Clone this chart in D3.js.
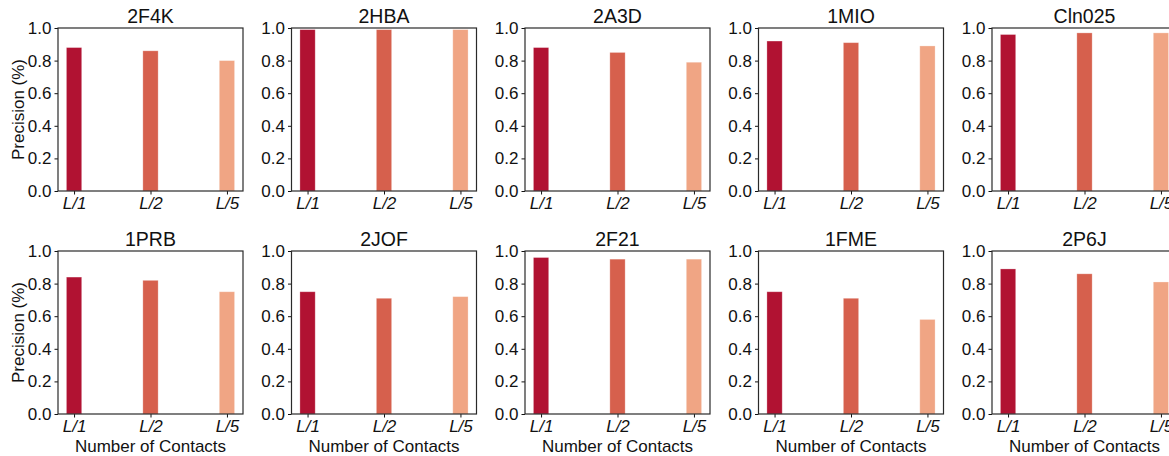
<!DOCTYPE html>
<html>
<head>
<meta charset="utf-8">
<script src="https://cdn.jsdelivr.net/npm/d3@7"></script>
<style>
  html, body { margin: 0; padding: 0; background: #fff; }
  svg { display: block; font-family: "Liberation Sans", Arial, sans-serif; }
</style>
</head>
<body>
<svg id="chart"></svg>
<script>
const proteins = ['2F4K', '2HBA', '2A3D', '1MIO', 'Cln025', '1PRB', '2JOF', '2F21', '1FME', '2P6J'];
const contacts = ['L/1', 'L/2', 'L/5'];
const precisionL1 = [0.88, 0.99, 0.88, 0.92, 0.96, 0.84, 0.75, 0.96, 0.75, 0.89];
const precisionL2 = [0.86, 0.99, 0.85, 0.91, 0.97, 0.82, 0.71, 0.95, 0.71, 0.86];
const precisionL5 = [0.80, 0.99, 0.79, 0.89, 0.97, 0.75, 0.72, 0.95, 0.58, 0.81];
const yTicks = [0, 0.2, 0.4, 0.6, 0.8, 1.0];
const barColors = ['#b11232', '#d6604d', '#f0a584'];

const width = 1169, height = 456;
const panelW = 185, panelH = 163;
const left0 = 58, top0 = 28, stepX = 233.5, stepY = 223;
const ink = '#111';

const svg = d3.select('#chart').attr('width', width).attr('height', height);

const xScale = d3.scaleLinear().domain([-0.21, 2.21]).range([0, panelW]);
const yScale = d3.scaleLinear().domain([0, 1]).range([panelH, 0]);

proteins.forEach((name, p) => {
    const col = p % 5, row = Math.floor(p / 5);
    const values = [precisionL1[p], precisionL2[p], precisionL5[p]];
    const g = svg.append('g')
        .attr('transform', `translate(${left0 + col * stepX},${top0 + row * stepY})`);

    g.selectAll('rect.bar')
        .data(values)
        .enter()
        .append('rect')
        .attr('class', 'bar')
        .attr('x', (d, i) => xScale(i - 0.1))
        .attr('width', xScale(0.2) - xScale(0))
        .attr('y', d => yScale(d))
        .attr('height', d => yScale(0) - yScale(d))
        .attr('fill', (d, i) => barColors[i])
        .attr('stroke', '#fff')
        .attr('stroke-opacity', 0.35)
        .attr('stroke-width', 0.8);

    const yAxis = g.append('g')
        .call(d3.axisLeft(yScale).tickValues(yTicks).tickFormat(d3.format('.1f'))
            .tickSize(3.5).tickPadding(3).tickSizeOuter(0));

    const xAxis = g.append('g')
        .attr('transform', `translate(0,${panelH})`)
        .call(d3.axisBottom(xScale).tickValues([0, 1, 2]).tickFormat(i => contacts[i])
            .tickSize(3.5).tickPadding(2).tickSizeOuter(0));

    [yAxis, xAxis].forEach(ax => {
        ax.select('.domain').remove();
        ax.selectAll('line').attr('stroke', ink).attr('stroke-width', 1);
        ax.selectAll('text').attr('fill', ink).attr('font-size', 17)
            .attr('font-family', '"Liberation Sans", Arial, sans-serif');
    });
    xAxis.selectAll('text').attr('font-style', 'italic');

    g.append('rect')
        .attr('width', panelW)
        .attr('height', panelH)
        .attr('fill', 'none')
        .attr('stroke', '#2a2a2a')
        .attr('stroke-width', 1.2);

    g.append('text')
        .attr('x', panelW / 2)
        .attr('y', -5)
        .attr('text-anchor', 'middle')
        .attr('font-size', 19.5)
        .attr('fill', ink)
        .text(name);

    if (col === 0) {
        g.append('text')
            .attr('transform', `translate(${-34},${panelH / 2}) rotate(-90)`)
            .attr('text-anchor', 'middle')
            .attr('font-size', 17)
            .attr('fill', ink)
            .text('Precision (%)');
    }

    if (row === 1) {
        g.append('text')
            .attr('x', panelW / 2)
            .attr('y', panelH + 38)
            .attr('text-anchor', 'middle')
            .attr('font-size', 17)
            .attr('fill', ink)
            .text('Number of Contacts');
    }
});
</script>
</body>
</html>
